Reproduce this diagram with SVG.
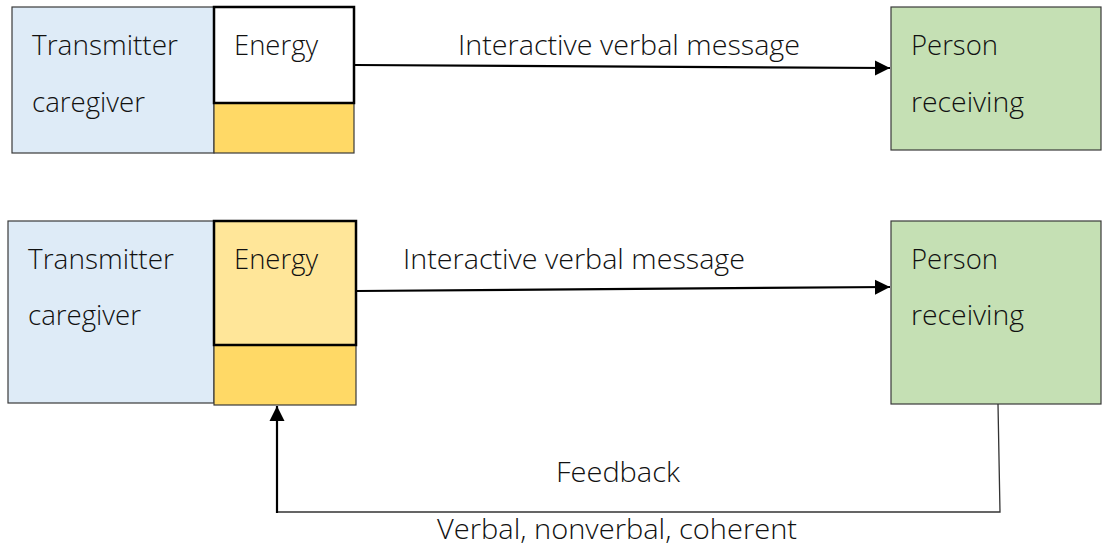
<svg xmlns="http://www.w3.org/2000/svg" width="1102" height="549" viewBox="0 0 1102 549">
  <style>
    text { font-family: "Open Sans", "Noto Sans", "DejaVu Sans", sans-serif; font-size: 27px; font-weight: 300; fill: #111; }
    .thin { stroke: #3a3a3a; stroke-width: 1.2; }
    .sender { fill: #DEEBF7; }
    .store { fill: #FFD966; }
    .energy { stroke: #000; stroke-width: 2.5; }
    .receiver { fill: #C5E0B4; }
    .flow { fill: none; stroke: #000; stroke-width: 2.2; }
    .fb { fill: none; stroke: #333; stroke-width: 1.3; }
  </style>
  <defs>
    <marker id="head" viewBox="0 0 10 10" refX="10" refY="5" markerWidth="7" markerHeight="7" markerUnits="strokeWidth" orient="auto">
      <path d="M0,0 L10,5 L0,10 Z" fill="#000"/>
    </marker>
  </defs>

  <!-- Upper model: one-way message -->
  <g id="sender-top">
    <rect class="sender thin" x="12" y="7" width="202" height="146"/>
    <text x="32" y="55" textLength="146" lengthAdjust="spacingAndGlyphs">Transmitter</text>
    <text x="32" y="112" textLength="113" lengthAdjust="spacingAndGlyphs">caregiver</text>
  </g>
  <g id="store-top">
    <rect class="store thin" x="214" y="103" width="140" height="50"/>
  </g>
  <g id="energy-top">
    <rect class="energy" x="214" y="7" width="140" height="96" fill="#FFFFFF"/>
    <text x="234" y="55" textLength="84" lengthAdjust="spacingAndGlyphs">Energy</text>
  </g>
  <g id="receiver-top">
    <rect class="receiver thin" x="891" y="7" width="210" height="143"/>
    <text x="911" y="55" textLength="87" lengthAdjust="spacingAndGlyphs">Person</text>
    <text x="911" y="112" textLength="113" lengthAdjust="spacingAndGlyphs">receiving</text>
  </g>

  <!-- Lower model: message with feedback -->
  <g id="sender-bottom">
    <rect class="sender thin" x="8" y="221" width="206" height="182"/>
    <text x="28" y="269" textLength="146" lengthAdjust="spacingAndGlyphs">Transmitter</text>
    <text x="28" y="325" textLength="113" lengthAdjust="spacingAndGlyphs">caregiver</text>
  </g>
  <g id="store-bottom">
    <rect class="store thin" x="214" y="345" width="142" height="60"/>
  </g>
  <g id="energy-bottom">
    <rect class="energy" x="214" y="221" width="142" height="124" fill="#FFE699"/>
    <text x="234" y="269" textLength="84" lengthAdjust="spacingAndGlyphs">Energy</text>
  </g>
  <g id="receiver-bottom">
    <rect class="receiver thin" x="891" y="221" width="210" height="183"/>
    <text x="911" y="269" textLength="87" lengthAdjust="spacingAndGlyphs">Person</text>
    <text x="911" y="325" textLength="113" lengthAdjust="spacingAndGlyphs">receiving</text>
  </g>

  <g id="connectors">
    <line class="flow" x1="355" y1="65" x2="890" y2="68" marker-end="url(#head)"/>
    <text x="458" y="55" textLength="342" lengthAdjust="spacingAndGlyphs">Interactive verbal message</text>

    <line class="flow" x1="357" y1="291" x2="890" y2="287" marker-end="url(#head)"/>
    <text x="403" y="269" textLength="342" lengthAdjust="spacingAndGlyphs">Interactive verbal message</text>

    <polyline class="fb" points="998,404 1000,512 277,512"/>
    <line class="flow" x1="277" y1="513" x2="277" y2="406" marker-end="url(#head)"/>
    <text x="556" y="482" textLength="124" lengthAdjust="spacingAndGlyphs">Feedback</text>
    <text x="437" y="539" textLength="360" lengthAdjust="spacingAndGlyphs">Verbal, nonverbal, coherent</text>
  </g>
</svg>
